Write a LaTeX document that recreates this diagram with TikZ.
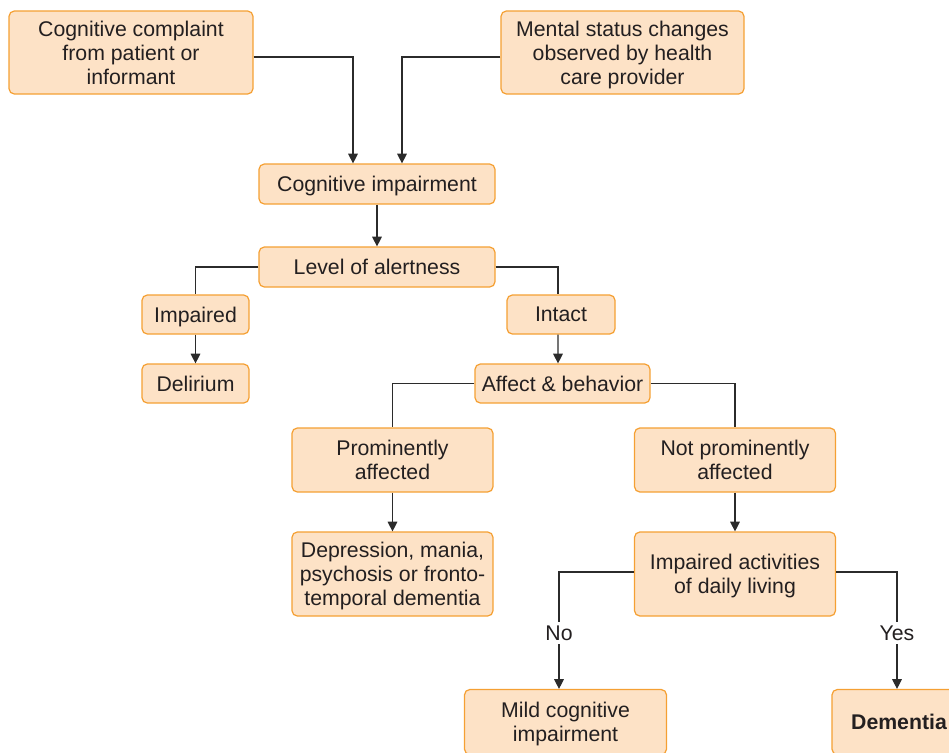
\documentclass[tikz,border=0pt]{standalone}
\usepackage{fontspec}
\setmainfont{Liberation Sans}
\usepackage{tikz}
\usetikzlibrary{arrows.meta}
\definecolor{boxfill}{HTML}{FDE2C6}
\definecolor{boxline}{HTML}{F5A033}
\definecolor{lineclr}{HTML}{2B2B2B}
\definecolor{textclr}{HTML}{231F20}

\begin{document}
\begin{tikzpicture}[x=0.02cm,y=-0.02cm]
	 \tikzstyle{box}=[draw=boxline,fill=boxfill,rounded corners=3pt,line width=0.7pt,
	   align=center,inner sep=0pt,text depth=0pt,text=textclr,font=\fontsize{12.1}{13.6}\selectfont]
	 \tikzstyle{edge} = [draw,line width=0.6pt,lineclr]
	 \tikzstyle{arrow} = [edge,-{Triangle[width=5.5pt,length=5.5pt]}]
	 \tikzstyle{answer} = [fill=white,inner sep=2pt,text=textclr,font=\fontsize{12.1}{13.6}\selectfont]
	 \useasboundingbox (0,0) rectangle (949,752);
	 \node[box,minimum width=4.88cm,minimum height=1.66cm] (complaint) at (131,52.5) {Cognitive complaint\\from patient or\\informant};
	 \node[box,minimum width=4.86cm,minimum height=1.66cm] (mental) at (622.5,52.5) {Mental status changes\\observed by health\\care provider};
	 \node[box,minimum width=4.72cm,minimum height=0.8cm] (cogimp) at (377,184) {Cognitive impairment};
	 \node[box,minimum width=4.72cm,minimum height=0.8cm] (alert) at (377,267) {Level of alertness};
	 \node[box,minimum width=2.14cm,minimum height=0.78cm] (impaired) at (195.5,314.5) {Impaired};
	 \node[box,minimum width=2.14cm,minimum height=0.78cm] (delirium) at (195.5,383.5) {Delirium};
	 \node[box,minimum width=2.16cm,minimum height=0.78cm] (intact) at (561,314.5) {Intact};
	 \node[box,minimum width=3.5cm,minimum height=0.78cm] (affect) at (562.5,383.5) {Affect \& behavior};
	 \node[box,minimum width=4.02cm,minimum height=1.28cm] (prom) at (392.5,460) {Prominently\\affected};
	 \node[box,minimum width=4.02cm,minimum height=1.28cm] (notprom) at (735,460) {Not prominently\\affected};
	 \node[box,minimum width=4.02cm,minimum height=1.68cm] (depress) at (392.5,574) {Depression, mania,\\psychosis or fronto-\\temporal dementia};
	 \node[box,minimum width=4.02cm,minimum height=1.68cm] (adl) at (735,574) {Impaired activities\\of daily living};
	 \node[box,minimum width=4.04cm,minimum height=1.3cm] (mci) at (565.5,722) {Mild cognitive\\impairment};
	 \node[box,minimum width=2.68cm,minimum height=1.3cm] (dementia) at (899,722) {\bfseries Dementia};
	 % top two inputs
	 \draw[arrow] ([yshift=-0.09cm]complaint.east) -| ([xshift=-0.48cm]cogimp.north);
	 \draw[arrow] ([yshift=-0.09cm]mental.west) -| ([xshift=0.5cm]cogimp.north);
	 \draw[arrow] (cogimp) -- (alert);
	 % alertness split
	 \draw[edge] (alert.west) -| (impaired.north);
	 \draw[edge] (alert.east) -| ([xshift=-0.06cm]intact.north);
	 \draw[arrow] (impaired) -- (delirium);
	 \draw[arrow] ([xshift=-0.06cm]intact.south) -- ([xshift=-0.09cm]affect.north);
	 % affect split
	 \draw[edge] (affect.west) -| (prom.north);
	 \draw[edge] (affect.east) -| (notprom.north);
	 \draw[arrow] (prom) -- (depress);
	 \draw[arrow] (notprom) -- (adl);
	 % daily living
	 \draw[arrow] ([yshift=0.04cm]adl.west) -| node[answer,pos=0.76] {No} ([xshift=-0.13cm]mci.north);
	 \draw[arrow] ([yshift=0.04cm]adl.east) -| node[answer,pos=0.76] {Yes} ([xshift=-0.04cm]dementia.north);
\end{tikzpicture}
\end{document}
